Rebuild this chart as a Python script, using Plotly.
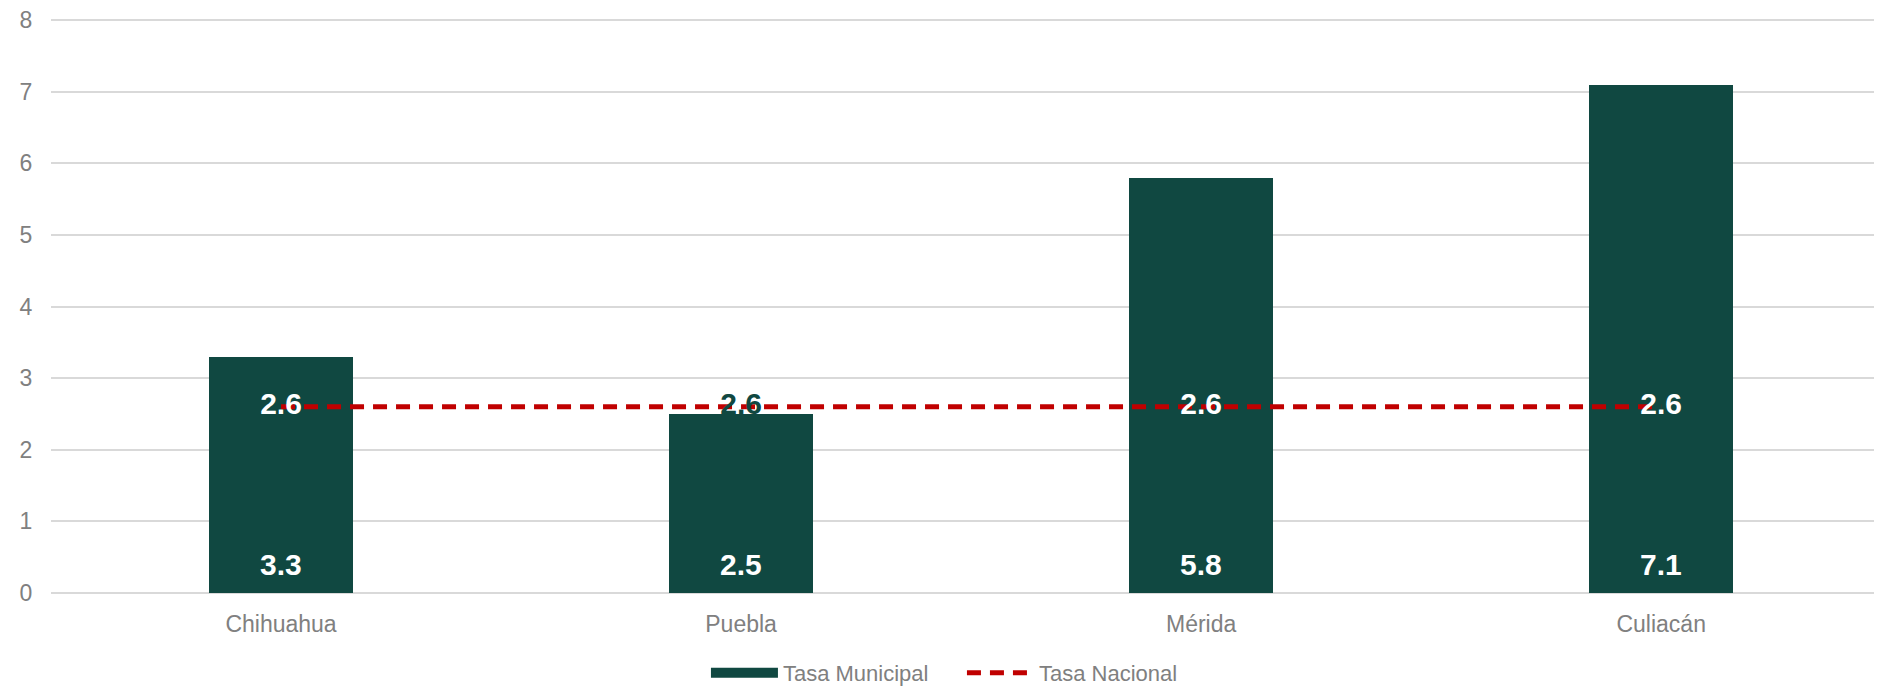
import plotly.graph_objects as go

categories = ["Chihuahua", "Puebla", "Mérida", "Culiacán"]
tasa_municipal = [3.3, 2.5, 5.8, 7.1]
tasa_nacional = [2.6, 2.6, 2.6, 2.6]
y_ticks = [0, 1, 2, 3, 4, 5, 6, 7, 8]

BAR = "#104841"
RED = "#C00000"
GRAY = "#808080"
FONT = "Liberation Sans, Arial, sans-serif"

fig = go.Figure()
fig.add_trace(go.Bar(
    x=categories, y=tasa_municipal, name="Tasa Municipal",
    marker=dict(color=BAR, line=dict(width=0)),
    width=0.313, showlegend=False,
))
# legend entry shaped like a wide swatch for the bars
fig.add_trace(go.Scatter(
    x=[None], y=[None], name="Tasa Municipal", mode="lines",
    line=dict(color=BAR, width=11), showlegend=True,
))
nat_colors = ["white", BAR, "white", "white"]
fig.add_trace(go.Scatter(
    x=categories, y=tasa_nacional, name="Tasa Nacional",
    mode="lines+text",
    line=dict(color=RED, width=5, dash="14px,9px"),
    text=[f"{v:.1f}" for v in tasa_nacional],
    textposition="middle center",
    textfont=dict(family=FONT, size=30, color=nat_colors, weight="bold"),
))

for c, v in zip(categories, tasa_municipal):
    fig.add_annotation(
        x=c, y=0, text=f"{v:.1f}", showarrow=False,
        yanchor="middle", yshift=29,
        font=dict(family=FONT, size=30, color="white", weight="bold"),
    )

# page body has an 8px margin, so the figure is sized to fit inside the window
fig.update_layout(
    width=1874, height=679,
    margin=dict(l=43, r=0, t=10, b=94, autoexpand=False),
    paper_bgcolor="white", plot_bgcolor="white",
    font=dict(family=FONT, size=23, color=GRAY),
    showlegend=True,
    legend=dict(orientation="h", x=0.3577, xanchor="left", y=-0.139, yanchor="middle",
                font=dict(size=22, color=GRAY), traceorder="normal",
                itemwidth=67, entrywidth=174),
    bargap=0,
)
fig.update_xaxes(
    range=[-0.5, 3.48], showgrid=False, showline=False, zeroline=False, automargin=False,
    tickfont=dict(size=23, color=GRAY), ticks="outside", ticklen=10, tickcolor="rgba(0,0,0,0)",
)
fig.update_yaxes(
    range=[0, 8.03], tickvals=y_ticks, showgrid=True, gridcolor="#D9D9D9", gridwidth=1.5,
    zeroline=True, zerolinecolor="#D9D9D9", zerolinewidth=1.5, showline=False, automargin=False,
    ticklabeloverflow="allow",
    tickfont=dict(size=23, color=GRAY), ticks="outside", ticklen=13, tickcolor="rgba(0,0,0,0)",
)

fig.write_html("out.html")
